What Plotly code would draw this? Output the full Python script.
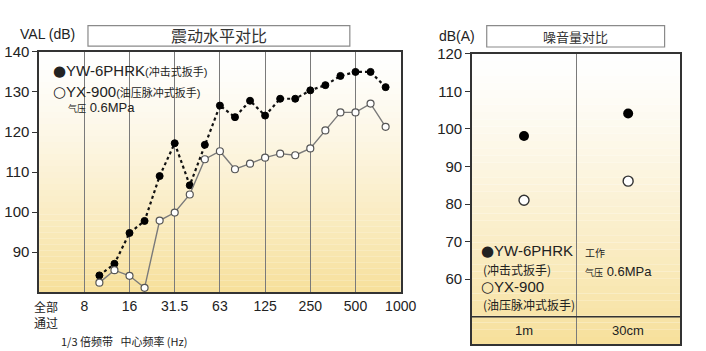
import numpy as np
import plotly.graph_objects as go

# ---------------- data ----------------
bands_hz = [10, 12.5, 16, 20, 25, 31.5, 40, 50, 63, 80, 100, 125, 160, 200, 250, 315, 400, 500, 630, 800]
yw_vib = [84.2, 87.1, 94.8, 97.8, 109.0, 117.2, 106.7, 116.8, 126.6, 123.7, 127.8, 124.1, 128.3, 128.3, 130.4, 131.7, 134.0, 135.0, 135.0, 131.2]
yx_vib = [82.4, 85.5, 84.1, 81.1, 97.9, 99.9, 104.4, 113.2, 115.2, 110.7, 112.1, 113.6, 114.6, 114.2, 115.9, 120.4, 124.9, 124.9, 127.1, 121.3]
octave_labels = ["8", "16", "31.5", "63", "125", "250", "500", "1000"]
octave_hz = [8, 16, 31.5, 63, 125, 250, 500, 1000]

noise_cats = ["1m", "30cm"]
yw_noise = [98.1, 104.1]
yx_noise = [81.0, 86.1]

# ---------------- helpers ----------------
FONT = "Arial, 'Liberation Sans', 'Noto Sans CJK SC', sans-serif"
CJK = "'Noto Sans CJK SC', Arial, sans-serif"


def oct_pos(f):
    # position on the band axis: 0 = overall, 1 = 8 Hz, each octave = 1
    return np.round(3 * np.log2(np.asarray(f, dtype=float) / 8.0)) / 3.0 + 1.0


xv = oct_pos(bands_hz)
xt = oct_pos(octave_hz)

fig = go.Figure()

# left chart traces
fig.add_trace(go.Scatter(
    x=xv, y=yw_vib, mode="lines+markers", xaxis="x", yaxis="y",
    line=dict(color="#111111", width=2.2, dash="dot"),
    marker=dict(symbol="circle", size=7, color="#000000", line=dict(color="#000000", width=1)),
    showlegend=False, hoverinfo="skip"))
fig.add_trace(go.Scatter(
    x=xv, y=yx_vib, mode="lines+markers", xaxis="x", yaxis="y",
    line=dict(color="#7a7a7a", width=1.4),
    marker=dict(symbol="circle", size=7, color="#ffffff", line=dict(color="#555555", width=1.2)),
    showlegend=False, hoverinfo="skip"))

# right chart traces
xn = [i + 0.5 for i in range(len(noise_cats))]
fig.add_trace(go.Scatter(
    x=xn, y=yw_noise, mode="markers", xaxis="x2", yaxis="y2",
    marker=dict(symbol="circle", size=10, color="#000000"),
    showlegend=False, hoverinfo="skip"))
fig.add_trace(go.Scatter(
    x=xn, y=yx_noise, mode="markers", xaxis="x2", yaxis="y2",
    marker=dict(symbol="circle", size=10, color="#ffffff", line=dict(color="#333333", width=1.4)),
    showlegend=False, hoverinfo="skip"))

# ---------------- gradient backgrounds ----------------
shapes = []
N = 40
top = np.array([255, 255, 255])
bot = np.array([247, 224, 155])
for ax in [("x", "y"), ("x2", "y2")]:
    for i in range(N):
        t = (i + 0.5) / N  # 0 at bottom, 1 at top
        w = (1 - t) ** 1.3
        c = top + (bot - top) * w
        shapes.append(dict(type="rect", xref=ax[0] + " domain", yref=ax[1] + " domain",
                           x0=0, x1=1, y0=i / N, y1=(i + 1) / N,
                           fillcolor="rgb(%d,%d,%d)" % tuple(c.astype(int)),
                           line=dict(width=0), layer="below"))

# separator line of the bottom band in right chart
shapes.append(dict(type="line", xref="x2 domain", yref="y2", x0=0, x1=1, y0=50, y1=50,
                   line=dict(color="#333333", width=1.3)))

# title boxes
shapes.append(dict(type="rect", xref="paper", yref="paper", x0=0.1275, x1=0.507, y0=0.8917, y1=0.9516,
                   line=dict(color="#8a8a8a", width=1.2), fillcolor="white"))
shapes.append(dict(type="rect", xref="paper", yref="paper", x0=0.7054, x1=0.9632, y0=0.8889, y1=0.9516,
                   line=dict(color="#8a8a8a", width=1.2), fillcolor="white"))

# ---------------- annotations ----------------
ann = []


def A(x, y, text, size=14, xanchor="left", xref="paper", yref="paper", color="#222222", family=FONT):
    ann.append(dict(x=x, y=y, xref=xref, yref=yref, text=text, showarrow=False,
                    xanchor=xanchor, yanchor="middle", font=dict(size=size, color=color, family=family)))


def px(xp):
    return xp / 706.0


def py(yp):
    return 1 - yp / 351.0


DOT = "<span style=\"font-family:'DejaVu Sans';font-size:15px\">●</span>"
RING = "<span style=\"font-family:'DejaVu Sans';font-size:15px\">○</span>"

A(px(224), py(27), "震动水平对比", size=16, xanchor="center", family=CJK, color="#333333")
A(px(589), py(28), "噪音量对比", size=13, xanchor="center", family=CJK, color="#333333")
A(px(18), py(26), "VAL (dB)", size=14)
A(px(447), py(28), "dB(A)", size=14)

A(px(52), py(64), DOT + "YW-6PHRK<span style='font-size:11px'>(冲击式扳手)</span>", size=15)
A(px(52), py(85), RING + "YX-900<span style='font-size:11px'>(油压脉冲式扳手)</span>", size=15)
A(px(68), py(101), "<span style='font-size:9px'>气压</span> 0.6MPa", size=13)

A(px(33), py(305), "全部", size=12, family=CJK)
A(px(33), py(322), "通过", size=12, family=CJK)
A(px(60), py(341), "1/3 倍频带   中心频率 (Hz)", size=11, family=CJK)

A(px(490), py(248), DOT + "YW-6PHRK", size=15)
A(px(492), py(267), "(冲击式扳手)", size=12, family=CJK)
A(px(490), py(285), RING + "YX-900", size=15)
A(px(492), py(303), "(油压脉冲式扳手)", size=12, family=CJK)
A(px(597), py(250), "工作", size=10, family=CJK)
A(px(597), py(269), "<span style='font-size:9px'>气压</span> 0.6MPa", size=13)

for xc, lab in zip(xn, noise_cats):
    ann.append(dict(x=xc, y=46.3, xref="x2", yref="y2", text=lab, showarrow=False,
                    xanchor="center", yanchor="middle", font=dict(size=13, color="#222222", family=FONT)))

fig.update_layout(
    width=706, height=351,
    margin=dict(l=0, r=0, t=0, b=0),
    paper_bgcolor="white", plot_bgcolor="rgba(0,0,0,0)",
    font=dict(family=FONT, size=14, color="#222222"),
    shapes=shapes, annotations=ann,
    xaxis=dict(domain=[0.0567, 0.5807], range=[0, 8], tickmode="array",
               tickvals=list(xt), ticktext=octave_labels, showgrid=True,
               gridcolor="#7a7a7a", gridwidth=1.2, zeroline=False, showline=True,
               linecolor="#333333", linewidth=1.5, mirror=True, ticks="", ticklen=0,
               tickfont=dict(size=14, color="#222222"), anchor="y"),
    yaxis=dict(domain=[0.1718, 0.8746], range=[80, 140], tickmode="array",
               tickvals=[90, 100, 110, 120, 130, 140], showgrid=False, zeroline=False,
               showline=True, linecolor="#333333", linewidth=1.5, mirror=True,
               ticks="outside", ticklen=5, tickcolor="#333333",
               tickfont=dict(size=15, color="#222222"), anchor="x"),
    xaxis2=dict(domain=[0.684, 0.9858], range=[0, 2], tickmode="array", tickvals=[1],
                ticktext=[""], showgrid=True, gridcolor="#7a7a7a", gridwidth=1.2,
                zeroline=False, showline=True, linecolor="#333333", linewidth=1.5,
                mirror=True, ticks="", anchor="y2"),
    yaxis2=dict(domain=[0.0199, 0.869], range=[42.7, 120], tickmode="array",
                tickvals=[60, 70, 80, 90, 100, 110, 120], showgrid=False, zeroline=False,
                showline=True, linecolor="#333333", linewidth=1.5, mirror=True,
                ticks="outside", ticklen=5, tickcolor="#333333",
                tickfont=dict(size=15, color="#222222"), anchor="x2"),
)

fig.write_html("out.html")
